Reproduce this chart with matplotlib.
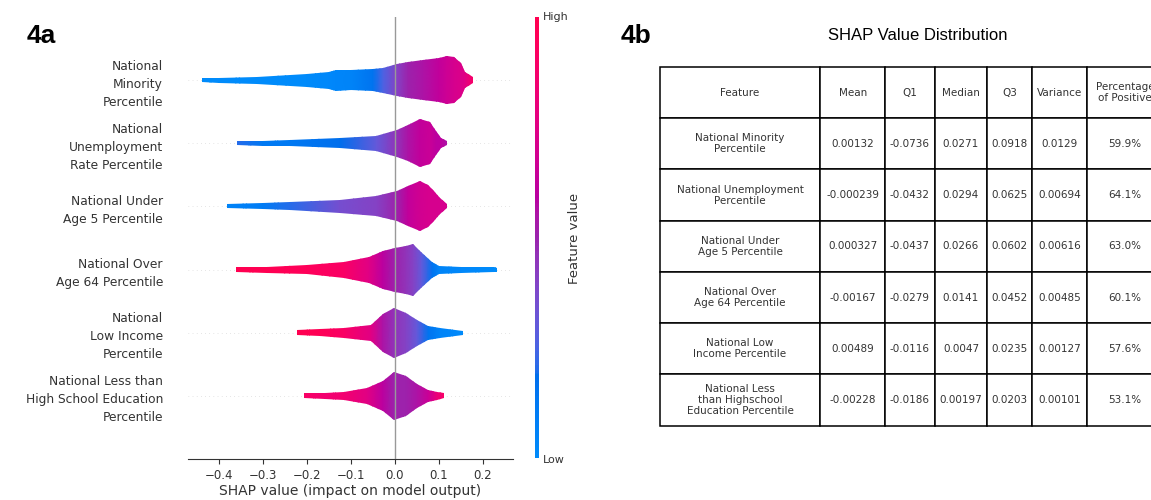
import numpy as np
import matplotlib
matplotlib.use("Agg")
import matplotlib.pyplot as plt
from matplotlib.colors import ListedColormap
from matplotlib.patches import Polygon

# ---- datos del panel 4a (perfil de cada fila) ----
features = [
    "National\nMinority\nPercentile",
    "National\nUnemployment\nRate Percentile",
    "National Under\nAge 5 Percentile",
    "National Over\nAge 64 Percentile",
    "National\nLow Income\nPercentile",
    "National Less than\nHigh School Education\nPercentile",
]

# valores SHAP de los nodos del contorno
minority_x = [-0.438, -0.40, -0.314, -0.20, -0.15, -0.135, -0.10, -0.05, -0.027, 0.004, 0.03, 0.064, 0.10, 0.117, 0.135, 0.150, 0.160, 0.177]
unemp_x = [-0.359, -0.30, -0.238, -0.125, -0.042, 0.004, 0.03, 0.057, 0.079, 0.094, 0.105, 0.117]
under5_x = [-0.382, -0.30, -0.238, -0.125, -0.042, 0.004, 0.03, 0.057, 0.075, 0.087, 0.102, 0.117]
over64_x = [-0.362, -0.29, -0.20, -0.115, -0.06, -0.028, 0.0, 0.024, 0.041, 0.06, 0.085, 0.10, 0.15, 0.224, 0.232]
lowinc_x = [-0.223, -0.17, -0.115, -0.054, -0.028, -0.002, 0.024, 0.05, 0.076, 0.102, 0.154]
lesshs_x = [-0.206, -0.16, -0.115, -0.063, -0.028, -0.002, 0.024, 0.05, 0.076, 0.095, 0.111]

# media altura de la nube en cada nodo (pixeles, 63 px = 1 fila)
minority_h = [2, 2.5, 3.5, 6.5, 8.5, 10.5, 10, 11, 12.5, 16, 18, 20, 22, 24, 23, 17, 8, 3]
unemp_h = [2, 2.5, 3, 5, 7.5, 13.5, 18, 24, 21, 12, 5, 2]
under5_h = [2, 3, 4, 6.5, 10, 15, 20, 25, 21, 16, 8, 2]
over64_h = [2.5, 3, 4.5, 8, 13, 19, 22, 24, 26, 18, 8, 4, 3, 2.5, 2]
lowinc_h = [2.5, 3.5, 5, 8, 19, 25, 20, 13, 7, 5, 2]
lesshs_h = [2.5, 3, 4, 8, 15, 24, 20, 12, 6, 4, 2.5]

# valor medio de la variable (0 = Low, 1 = High) en cada nodo
minority_fv = [0, 0, 0, 0, 0.02, 0.03, 0.05, 0.15, 0.25, 0.4, 0.5, 0.55, 0.62, 0.66, 0.7, 0.72, 0.75, 0.9]
unemp_fv = [0.2, 0.12, 0.12, 0.18, 0.3, 0.45, 0.55, 0.62, 0.65, 0.6, 0.6, 0.55]
under5_fv = [0.05, 0.1, 0.2, 0.35, 0.4, 0.5, 0.62, 0.68, 0.7, 0.7, 0.7, 0.7]
over64_fv = [1.0, 0.98, 0.95, 0.9, 0.75, 0.6, 0.5, 0.45, 0.4, 0.3, 0.15, 0.05, 0.02, 0.0, 0.0]
lowinc_fv = [1.0, 0.97, 0.9, 0.75, 0.55, 0.45, 0.4, 0.3, 0.15, 0.05, 0.0]
lesshs_fv = [0.9, 0.85, 0.85, 0.75, 0.6, 0.5, 0.5, 0.55, 0.65, 0.8, 0.9]

rows_x = [minority_x, unemp_x, under5_x, over64_x, lowinc_x, lesshs_x]
rows_h = [minority_h, unemp_h, under5_h, over64_h, lowinc_h, lesshs_h]
rows_fv = [minority_fv, unemp_fv, under5_fv, over64_fv, lowinc_fv, lesshs_fv]

# ---- datos del panel 4b ----
table_header = ["Feature", "Mean", "Q1", "Median", "Q3", "Variance", "Percentage\nof Positive"]
table_features = [
    "National Minority\nPercentile",
    "National Unemployment\nPercentile",
    "National Under\nAge 5 Percentile",
    "National Over\nAge 64 Percentile",
    "National Low\nIncome Percentile",
    "National Less\nthan Highschool\nEducation Percentile",
]
mean_vals = [0.00132, -0.000239, 0.000327, -0.00167, 0.00489, -0.00228]
q1_vals = [-0.0736, -0.0432, -0.0437, -0.0279, -0.0116, -0.0186]
median_vals = [0.0271, 0.0294, 0.0266, 0.0141, 0.0047, 0.00197]
q3_vals = [0.0918, 0.0625, 0.0602, 0.0452, 0.0235, 0.0203]
var_vals = [0.0129, 0.00694, 0.00616, 0.00485, 0.00127, 0.00101]
pos_pct = [59.9, 64.1, 63.0, 60.1, 57.6, 53.1]


def lch2rgb(l, c, h):
    # LCH -> Lab -> XYZ -> sRGB
    a = c * np.cos(h)
    b = c * np.sin(h)
    fy = (l + 16) / 116
    fx = fy + a / 500
    fz = fy - b / 200

    def finv(t):
        return np.where(t ** 3 > 0.008856, t ** 3, (t - 16 / 116) / 7.787)

    xyz = np.array([0.95047 * finv(fx), finv(fy), 1.08883 * finv(fz)])
    m = np.array([[3.2406, -1.5372, -0.4986],
                  [-0.9689, 1.8758, 0.0415],
                  [0.0557, -0.2040, 1.0570]])
    rgb = m @ xyz
    rgb = np.where(rgb > 0.0031308, 1.055 * np.abs(rgb) ** (1 / 2.4) - 0.055, 12.92 * rgb)
    return np.clip(rgb, 0, 1).T


# mapa de color rojo-azul (como el de shap)
n = 100
l_vals = np.r_[np.linspace(54, 40, n // 2), np.linspace(40, 54, n // 2)]
c_vals = np.linspace(70, 90, n)
h_vals = np.linspace(4.6588, 0.35470565 + 2 * np.pi, n)
red_blue = ListedColormap(lch2rgb(l_vals, c_vals, h_vals))

axis_color = "#333333"
W, H = 1151, 500
fig = plt.figure(figsize=(W / 100, H / 100), dpi=100)

# ---- panel 4a ----
ax = fig.add_axes([188 / W, 41 / H, 325 / W, 442 / H])
row_pos = [5, 4, 3, 2, 1, 0]

for y0 in row_pos:
    ax.axhline(y0, color="#cccccc", lw=0.5, dashes=(1, 5), zorder=-1)
ax.axvline(0, color="#999999", lw=1, zorder=3)

for y0, xs, hs, fv in zip(row_pos, rows_x, rows_h, rows_fv):
    xs = np.array(xs)
    hh = np.array(hs) / 63.0
    verts = np.column_stack([np.r_[xs, xs[::-1]], np.r_[y0 + hh, (y0 - hh)[::-1]]])
    patch = Polygon(verts, closed=True, facecolor="none", edgecolor="none")
    ax.add_patch(patch)
    X = np.vstack([xs, xs])
    Y = np.vstack([np.full(len(xs), y0 - 0.5), np.full(len(xs), y0 + 0.5)])
    C = np.vstack([fv, fv])
    mesh = ax.pcolormesh(X, Y, C, cmap=red_blue, vmin=0, vmax=1, shading="gouraud", zorder=2)
    mesh.set_clip_path(patch)

ax.set_xlim(-0.470, 0.268)
ax.set_ylim(-1, 6)
ax.set_yticks(row_pos)
ax.set_yticklabels(features, fontsize=8.8, color=axis_color, linespacing=1.5)
ax.tick_params(axis="y", length=0, pad=18)
ax.set_xticks([-0.4, -0.3, -0.2, -0.1, 0.0, 0.1, 0.2])
ax.tick_params(axis="x", labelsize=8.5, colors=axis_color)
ax.set_xlabel("SHAP value (impact on model output)", fontsize=10, color=axis_color, labelpad=2)
for s in ["top", "right", "left"]:
    ax.spines[s].set_visible(False)
ax.spines["bottom"].set_color(axis_color)

# barra de color
cax = fig.add_axes([535 / W, 42 / H, 4 / W, 441 / H])
cax.imshow(np.linspace(0, 1, 256)[:, None], cmap=red_blue, aspect="auto", origin="lower")
cax.set_axis_off()
fig.text(543 / W, 1 - 17 / H, "High", fontsize=8, color=axis_color, va="center")
fig.text(543 / W, 1 - 460 / H, "Low", fontsize=8, color=axis_color, va="center")
fig.text(575 / W, 1 - 238 / H, "Feature value", fontsize=9.5, color=axis_color,
         rotation=90, ha="center", va="center")

fig.text(27 / W, 1 - 36 / H, "4a", fontsize=19, fontweight="bold", family="Liberation Sans", va="center")

# ---- panel 4b ----
fig.text(621 / W, 1 - 36 / H, "4b", fontsize=19, fontweight="bold", family="Liberation Sans", va="center")
fig.text(917.6 / W, 1 - 35 / H, "SHAP Value Distribution", fontsize=12, family="Liberation Sans",
         ha="center", va="center")

cell_text = []
for i in range(len(table_features)):
    cell_text.append([table_features[i], str(mean_vals[i]), str(q1_vals[i]), str(median_vals[i]),
                      str(q3_vals[i]), str(var_vals[i]), f"{pos_pct[i]}%"])

col_px = [160, 65.4, 49.2, 52.7, 44.6, 55.2, 76]
tax = fig.add_axes([660 / W, (H - 425.7) / H, sum(col_px) / W, 358.7 / H])
tax.axis("off")
tbl = tax.table(cellText=cell_text, colLabels=table_header,
                colWidths=[w / sum(col_px) for w in col_px],
                cellLoc="center", bbox=[0, 0, 1, 1])
tbl.auto_set_font_size(False)
tbl.set_fontsize(7.5)
for (r, c), cell in tbl.get_celld().items():
    cell.set_linewidth(1.1)
    cell.set_edgecolor("black")
    cell.get_text().set_color("#333333")
    cell.get_text().set_linespacing(1.15)

fig.savefig("out.png", dpi=100)
